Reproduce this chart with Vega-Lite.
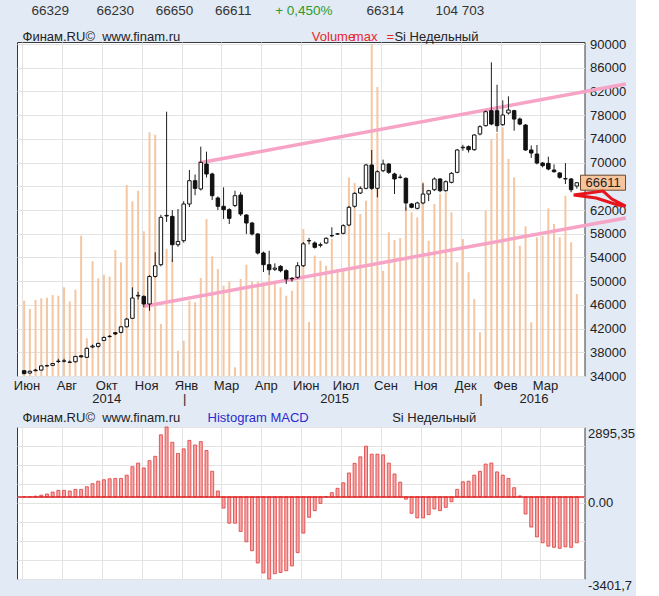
{
"$schema": "https://vega.github.io/schema/vega-lite/v6.json",
"background": "#e2eaf5",
"padding": {"left": 12, "top": 2, "right": 0, "bottom": 3},
"bounds": "flush",
"spacing": 51,
"datasets": {
"candles": [
{"i":0,"o":34900,"h":35000,"l":34300,"c":34400,"v":753,"m":0},
{"i":1,"o":34500,"h":34900,"l":34400,"c":34800,"v":670,"m":0},
{"i":2,"o":34900,"h":35200,"l":34800,"c":35000,"v":760,"m":30},
{"i":3,"o":35000,"h":35800,"l":34950,"c":35700,"v":777,"m":70},
{"i":4,"o":35700,"h":35900,"l":35600,"c":35750,"v":783,"m":120},
{"i":5,"o":35800,"h":36200,"l":35700,"c":36100,"v":810,"m":200},
{"i":6,"o":36450,"h":36900,"l":36200,"c":36500,"v":803,"m":270},
{"i":7,"o":36500,"h":36900,"l":36300,"c":36550,"v":887,"m":270},
{"i":8,"o":36300,"h":36600,"l":36250,"c":36350,"v":747,"m":245},
{"i":9,"o":36400,"h":37400,"l":36300,"c":37300,"v":863,"m":310},
{"i":10,"o":37400,"h":37500,"l":37100,"c":37250,"v":1403,"m":310},
{"i":11,"o":37150,"h":38800,"l":37100,"c":38670,"v":377,"m":420},
{"i":12,"o":38900,"h":39300,"l":38700,"c":39050,"v":1147,"m":545},
{"i":13,"o":39000,"h":39600,"l":38800,"c":39500,"v":977,"m":650},
{"i":14,"o":40000,"h":40650,"l":39900,"c":40500,"v":1013,"m":710},
{"i":15,"o":40650,"h":40900,"l":40500,"c":40700,"v":993,"m":750},
{"i":16,"o":41300,"h":41400,"l":40900,"c":41100,"v":1260,"m":765},
{"i":17,"o":41360,"h":42400,"l":41200,"c":42300,"v":1137,"m":765},
{"i":18,"o":42300,"h":43800,"l":42200,"c":43600,"v":1910,"m":900},
{"i":19,"o":43730,"h":48960,"l":43600,"c":47160,"v":1747,"m":1250},
{"i":20,"o":47500,"h":48200,"l":46900,"c":47600,"v":1853,"m":1400},
{"i":21,"o":47430,"h":47600,"l":45600,"c":46150,"v":1447,"m":1200},
{"i":22,"o":46150,"h":51000,"l":45000,"c":50800,"v":2437,"m":1500},
{"i":23,"o":50800,"h":54870,"l":50600,"c":52600,"v":2413,"m":1680},
{"i":24,"o":52780,"h":61200,"l":52500,"c":60770,"v":520,"m":2570},
{"i":25,"o":61000,"h":78590,"l":60000,"c":61100,"v":1270,"m":2895},
{"i":26,"o":60930,"h":62000,"l":53230,"c":56150,"v":1170,"m":2260},
{"i":27,"o":56150,"h":62170,"l":55800,"c":56700,"v":253,"m":1800},
{"i":28,"o":56830,"h":63500,"l":56500,"c":63020,"v":353,"m":1990},
{"i":29,"o":63020,"h":68750,"l":62500,"c":66950,"v":753,"m":2340},
{"i":30,"o":66950,"h":68000,"l":64500,"c":65660,"v":737,"m":2150},
{"i":31,"o":65550,"h":72700,"l":65300,"c":70040,"v":980,"m":2290},
{"i":32,"o":69760,"h":71850,"l":67500,"c":68080,"v":1570,"m":1920},
{"i":33,"o":68080,"h":68300,"l":63700,"c":64420,"v":1197,"m":1060},
{"i":34,"o":64030,"h":64300,"l":62000,"c":62630,"v":1070,"m":245},
{"i":35,"o":62630,"h":65830,"l":60500,"c":62060,"v":903,"m":-465},
{"i":36,"o":62060,"h":62300,"l":59640,"c":60600,"v":947,"m":-1090},
{"i":37,"o":62770,"h":65260,"l":62500,"c":64420,"v":87,"m":-1090},
{"i":38,"o":64530,"h":65000,"l":61000,"c":61330,"v":970,"m":-1430},
{"i":39,"o":61160,"h":61300,"l":57960,"c":59810,"v":1113,"m":-1860},
{"i":40,"o":59810,"h":60000,"l":57700,"c":57960,"v":943,"m":-2230},
{"i":41,"o":57960,"h":58100,"l":54500,"c":54750,"v":943,"m":-2740},
{"i":42,"o":54750,"h":55000,"l":51540,"c":52780,"v":937,"m":-3150},
{"i":43,"o":52780,"h":55140,"l":51000,"c":51930,"v":1003,"m":-3400},
{"i":44,"o":52000,"h":53000,"l":51700,"c":52200,"v":953,"m":-3180},
{"i":45,"o":52500,"h":52700,"l":51500,"c":51770,"v":887,"m":-3130},
{"i":46,"o":51770,"h":52000,"l":49520,"c":50360,"v":803,"m":-3060},
{"i":47,"o":50400,"h":50700,"l":49900,"c":50450,"v":853,"m":-2860},
{"i":48,"o":50650,"h":53200,"l":50400,"c":52600,"v":953,"m":-2310},
{"i":49,"o":52600,"h":56600,"l":52400,"c":56300,"v":1470,"m":-1500},
{"i":50,"o":56800,"h":57300,"l":56200,"c":56850,"v":540,"m":-845},
{"i":51,"o":56440,"h":56700,"l":55500,"c":55710,"v":1203,"m":-570},
{"i":52,"o":56050,"h":56500,"l":55700,"c":56150,"v":1153,"m":-270},
{"i":53,"o":56440,"h":57400,"l":56300,"c":57230,"v":1103,"m":0},
{"i":54,"o":57650,"h":59090,"l":57400,"c":57700,"v":1370,"m":175},
{"i":55,"o":57950,"h":58100,"l":57800,"c":57980,"v":1040,"m":355},
{"i":56,"o":58070,"h":59600,"l":57900,"c":59360,"v":1070,"m":585},
{"i":57,"o":59470,"h":62700,"l":59300,"c":62460,"v":1987,"m":990},
{"i":58,"o":62630,"h":65000,"l":62400,"c":64820,"v":1930,"m":1390},
{"i":59,"o":64870,"h":66000,"l":64700,"c":65660,"v":1620,"m":1660},
{"i":60,"o":65660,"h":69800,"l":65500,"c":69600,"v":1753,"m":2100},
{"i":61,"o":69600,"h":72130,"l":65400,"c":65660,"v":3320,"m":1770},
{"i":62,"o":65660,"h":68700,"l":64150,"c":68470,"v":2890,"m":1770},
{"i":63,"o":68640,"h":70500,"l":68400,"c":69760,"v":1053,"m":1740},
{"i":64,"o":69760,"h":69900,"l":68100,"c":68360,"v":1437,"m":1400},
{"i":65,"o":68080,"h":68300,"l":64700,"c":67240,"v":1360,"m":950},
{"i":66,"o":67500,"h":68000,"l":67300,"c":67550,"v":1380,"m":610},
{"i":67,"o":67350,"h":67500,"l":61890,"c":63190,"v":1687,"m":-95},
{"i":68,"o":63020,"h":63200,"l":62300,"c":62460,"v":1637,"m":-680},
{"i":69,"o":62290,"h":63400,"l":62100,"c":63190,"v":1587,"m":-870},
{"i":70,"o":63190,"h":66500,"l":63000,"c":64700,"v":1937,"m":-870},
{"i":71,"o":64700,"h":65400,"l":63500,"c":65260,"v":1353,"m":-735},
{"i":72,"o":65430,"h":67500,"l":65200,"c":67240,"v":1720,"m":-500},
{"i":73,"o":67240,"h":67400,"l":65000,"c":65260,"v":1820,"m":-570},
{"i":74,"o":65260,"h":67000,"l":65100,"c":66780,"v":1837,"m":-435},
{"i":75,"o":66670,"h":68400,"l":66500,"c":68190,"v":1637,"m":-200},
{"i":76,"o":68360,"h":72300,"l":68200,"c":72130,"v":1137,"m":310},
{"i":77,"o":72500,"h":73000,"l":72000,"c":72600,"v":1370,"m":625},
{"i":78,"o":72690,"h":72900,"l":71700,"c":72180,"v":1037,"m":650},
{"i":79,"o":72180,"h":74800,"l":72000,"c":74660,"v":770,"m":900},
{"i":80,"o":74830,"h":76300,"l":74600,"c":76060,"v":437,"m":1060},
{"i":81,"o":76230,"h":78800,"l":76100,"c":78590,"v":1653,"m":1360},
{"i":82,"o":78760,"h":86920,"l":76300,"c":76510,"v":2370,"m":1400},
{"i":83,"o":78760,"h":83140,"l":75200,"c":76230,"v":2430,"m":1035},
{"i":84,"o":76400,"h":80500,"l":76200,"c":78030,"v":2487,"m":900},
{"i":85,"o":78370,"h":81180,"l":78100,"c":78870,"v":2170,"m":765},
{"i":86,"o":78760,"h":78900,"l":75380,"c":77350,"v":1987,"m":380},
{"i":87,"o":77350,"h":77600,"l":76300,"c":76510,"v":1303,"m":40},
{"i":88,"o":76340,"h":76500,"l":72000,"c":72130,"v":1497,"m":-710},
{"i":89,"o":72130,"h":72900,"l":70800,"c":71620,"v":537,"m":-1250},
{"i":90,"o":71450,"h":72970,"l":69700,"c":69930,"v":1387,"m":-1660},
{"i":91,"o":69930,"h":70100,"l":69200,"c":69480,"v":1403,"m":-1900},
{"i":92,"o":69870,"h":71000,"l":68700,"c":68920,"v":1677,"m":-2040},
{"i":93,"o":68750,"h":69700,"l":68300,"c":68470,"v":1520,"m":-2090},
{"i":94,"o":68250,"h":68400,"l":67300,"c":67520,"v":1387,"m":-2130},
{"i":95,"o":67300,"h":69930,"l":66400,"c":67250,"v":1803,"m":-2070},
{"i":96,"o":67240,"h":67400,"l":65000,"c":65430,"v":1337,"m":-2090},
{"i":97,"o":66050,"h":66700,"l":65600,"c":66611,"v":820,"m":-1900}
],
"trend": [
{"line":"up","i":30.6,"p":69930},
{"line":"up","i":105.6,"p":83260},
{"line":"dn","i":21.1,"p":45760},
{"line":"dn","i":105.6,"p":60660}
],
"arrow": [
{"k":0,"i":96.43,"p":64535},
{"k":1,"i":101.6,"p":65210},
{"k":2,"i":103.16,"p":63860},
{"k":3,"i":105.57,"p":62680},
{"k":4,"i":104.19,"p":62850},
{"k":5,"i":100.4,"p":64030},
{"k":6,"i":96.43,"p":64535}
]
},
"config": {
"view": {"fill": "white", "stroke": "#3a3a3a", "strokeWidth": 1},
"axis": {"labelFont": "Liberation Sans", "labelFontSize": 13, "labelColor": "#222222", "domain": false, "ticks": false, "gridColor": "#e3e3e3", "labelOverlap": false, "tickCount": 30}
},
"vconcat": [
{
"width": 567.5,
"height": 334,
"layer": [
{
"data": {"name": "candles"},
"mark": {"type": "rule", "color": "#f4c6a2", "strokeWidth": 2},
"encoding": {
"x": {"field": "i", "type": "quantitative", "title": null, "scale": {"domain": [-0.38, 97.47], "nice": false, "zero": false},
"axis": {"orient": "bottom", "values": [-0.38,6.62,13.62,20.62,27.62,34.62,41.62,48.62,55.62,62.62,69.62,76.62,83.62,90.62], "tickCount": 30, "grid": true, "labelExpr": "['Июн','Авг','Окт','Ноя','Янв','Мар','Апр','Июн','Июл','Сен','Ноя','Дек','Фев','Мар'][round((datum.value+0.38)/7)]", "labelOffset": 4.5, "labelPadding": 3, "labelBaseline": "top"}},
"y": {"field": "v", "type": "quantitative", "title": null, "scale": {"domain": [0, 3340], "nice": false, "zero": false}, "axis": null},
"y2": {"datum": 0}
}
},
{
"layer": [
{
"data": {"name": "trend"},
"mark": {"type": "line", "color": "#f7a3c6", "strokeWidth": 3.5},
"encoding": {
"x": {"field": "i", "type": "quantitative", "title": null, "scale": {"domain": [-0.38, 97.47], "nice": false, "zero": false},
"axis": {"orient": "top", "grid": false, "values": [4.5,15.9,26.3,36.6,49,63.3,76.4], "labelExpr": "['66329','66230','66650','66611','+ 0,450%','66314','104 703'][indexof([4.5,15.9,26.3,36.6,49,63.3,76.4], datum.value)]", "offset": 25, "labelPadding": 0, "labelFontSize": 13.5, "labelColor": {"condition": {"test": "datum.value == 49", "value": "#2e9a2e"}, "value": "#333333"}}},
"y": {"field": "p", "type": "quantitative", "title": null, "scale": {"domain": [34000, 90350], "nice": false, "zero": false},
"axis": {"orient": "right", "values": [34000,38000,42000,46000,50000,54000,58000,62000,66000,70000,74000,78000,82000,86000,90000], "tickCount": 30, "grid": true, "labelOverlap": false, "labelExpr": "datum.value == 66000 ? '' : format(datum.value, 'd')", "labelPadding": 5, "labelAlign": "left", "labelBaseline": "middle"}},
"detail": {"field": "line"}
}
},
{
"data": {"name": "candles"},
"mark": {"type": "rule", "color": "#1e1e1e", "strokeWidth": 1},
"encoding": {
"x": {"field": "i", "type": "quantitative", "title": null, "scale": {"domain": [-0.38, 97.47], "nice": false, "zero": false},
"axis": {"orient": "bottom", "grid": false, "values": [14.4,28.1,54.4,80.1,89.4], "labelExpr": "['2014','|','2015','|','2016'][indexof([14.4,28.1,54.4,80.1,89.4], datum.value)]", "offset": 13, "labelPadding": 3, "labelBaseline": "top"}},
"y": {"field": "l", "type": "quantitative", "title": null, "scale": {"domain": [34000, 90350], "nice": false, "zero": false},
"axis": {"orient": "right", "values": [34000,38000,42000,46000,50000,54000,58000,62000,66000,70000,74000,78000,82000,86000,90000], "tickCount": 30, "grid": true, "labelOverlap": false, "labelExpr": "datum.value == 66000 ? '' : format(datum.value, 'd')", "labelPadding": 5, "labelAlign": "left", "labelBaseline": "middle"}},
"y2": {"field": "h"}
}
},
{
"data": {"name": "candles"},
"mark": {"type": "bar", "size": 3.5, "stroke": "#111111", "strokeWidth": 1},
"encoding": {
"x": {"field": "i", "type": "quantitative", "title": null, "scale": {"domain": [-0.38, 97.47], "nice": false, "zero": false},
"axis": {"orient": "top", "grid": false, "values": [-0.38,50.4,57.6,63.5,64.9], "labelExpr": "['Финам.RU©\u00a0 www.finam.ru','Volume','max','=','Si Недельный'][indexof([-0.38,50.4,57.6,63.5,64.9], datum.value)]", "labelAlign": "left", "labelPadding": -1, "labelColor": {"condition": {"test": "datum.value > 40 && datum.value < 64", "value": "#e8262a"}, "value": "#222222"}}},
"y": {"field": "o", "type": "quantitative", "title": null, "scale": {"domain": [34000, 90350], "nice": false, "zero": false},
"axis": {"orient": "right", "values": [34000,38000,42000,46000,50000,54000,58000,62000,66000,70000,74000,78000,82000,86000,90000], "tickCount": 30, "grid": true, "labelOverlap": false, "labelExpr": "datum.value == 66000 ? '' : format(datum.value, 'd')", "labelPadding": 5, "labelAlign": "left", "labelBaseline": "middle"}},
"y2": {"field": "c"},
"fill": {"condition": {"test": "datum.c >= datum.o", "value": "#ffffff"}, "value": "#111111"}
}
},
{
"data": {"name": "candles"},
"transform": [{"filter": "datum.i == 97"}],
"mark": {"type": "point", "shape": "M-1,-0.333H1V0.333H-1Z", "size": 2025, "filled": true, "fill": "#f8c49c", "stroke": "#6b4a30", "strokeWidth": 1, "opacity": 1},
"encoding": {
"x": {"datum": 101.6, "type": "quantitative", "scale": {"domain": [-0.38, 97.47], "nice": false, "zero": false}, "axis": null},
"y": {"field": "c", "type": "quantitative", "title": null, "scale": {"domain": [34000, 90350], "nice": false, "zero": false},
"axis": {"orient": "right", "values": [34000,38000,42000,46000,50000,54000,58000,62000,66000,70000,74000,78000,82000,86000,90000], "tickCount": 30, "grid": true, "labelOverlap": false, "labelExpr": "datum.value == 66000 ? '' : format(datum.value, 'd')", "labelPadding": 5, "labelAlign": "left", "labelBaseline": "middle"}}
}
},
{
"data": {"name": "candles"},
"transform": [{"filter": "datum.i == 97"}],
"mark": {"type": "text", "font": "Liberation Sans", "fontSize": 13, "color": "#222222", "align": "center", "baseline": "middle"},
"encoding": {
"x": {"datum": 101.6, "type": "quantitative", "scale": {"domain": [-0.38, 97.47], "nice": false, "zero": false}, "axis": null},
"y": {"field": "c", "type": "quantitative", "title": null, "scale": {"domain": [34000, 90350], "nice": false, "zero": false},
"axis": {"orient": "right", "values": [34000,38000,42000,46000,50000,54000,58000,62000,66000,70000,74000,78000,82000,86000,90000], "tickCount": 30, "grid": true, "labelOverlap": false, "labelExpr": "datum.value == 66000 ? '' : format(datum.value, 'd')", "labelPadding": 5, "labelAlign": "left", "labelBaseline": "middle"}},
"text": {"field": "c", "type": "quantitative", "format": "d"}
}
},
{
"data": {"name": "arrow"},
"mark": {"type": "line", "color": "#e8141c", "strokeWidth": 3, "clip": false},
"encoding": {
"x": {"field": "i", "type": "quantitative", "title": null, "scale": {"domain": [-0.38, 97.47], "nice": false, "zero": false}, "axis": null},
"y": {"field": "p", "type": "quantitative", "title": null, "scale": {"domain": [34000, 90350], "nice": false, "zero": false},
"axis": {"orient": "right", "values": [34000,38000,42000,46000,50000,54000,58000,62000,66000,70000,74000,78000,82000,86000,90000], "tickCount": 30, "grid": true, "labelOverlap": false, "labelExpr": "datum.value == 66000 ? '' : format(datum.value, 'd')", "labelPadding": 5, "labelAlign": "left", "labelBaseline": "middle"}},
"order": {"field": "k"}
}
}
],
"resolve": {"axis": {"x": "independent"}}
}
],
"resolve": {"scale": {"y": "independent"}, "axis": {"x": "independent", "y": "independent"}}
},
{
"width": 567.5,
"height": 152,
"layer": [
{
"data": {"name": "candles"},
"transform": [{"filter": "datum.m >= 0"}],
"mark": {"type": "bar", "size": 3, "fill": "#f5a9a9", "stroke": "#e03a3a", "strokeWidth": 0.8},
"encoding": {
"x": {"field": "i", "type": "quantitative", "title": null, "scale": {"domain": [-0.38, 97.47], "nice": false, "zero": false},
"axis": {"orient": "bottom", "values": [-0.38,6.62,13.62,20.62,27.62,34.62,41.62,48.62,55.62,62.62,69.62,76.62,83.62,90.62], "tickCount": 30, "grid": true, "labels": false}},
"y": {"field": "m", "type": "quantitative", "title": null, "scale": {"domain": [-3401.7, 2895.35], "nice": false, "zero": false},
"axis": {"orient": "right", "values": [2895.35,2108,1321,534,0,-253,-1040,-1827,-2614,-3401.7], "tickCount": 30, "grid": true, "labelOverlap": false, "labelExpr": "datum.value == 0 ? '0.00' : datum.value > 2800 ? '2895,35' : datum.value < -3400 ? '-3401,7' : ''", "labelPadding": 3, "labelAlign": "left", "labelBaseline": "top"}},
"y2": {"datum": 0}
}
},
{
"data": {"name": "candles"},
"transform": [{"filter": "datum.m < 0"}],
"mark": {"type": "bar", "size": 3, "fill": "#f5a9a9", "stroke": "#e03a3a", "strokeWidth": 0.8},
"encoding": {
"x": {"field": "i", "type": "quantitative", "title": null, "scale": {"domain": [-0.38, 97.47], "nice": false, "zero": false},
"axis": {"orient": "top", "grid": false, "values": [-0.38,32.1,64.5], "labelExpr": "['Финам.RU©\u00a0 www.finam.ru','Histogram MACD','Si Недельный'][indexof([-0.38,32.1,64.5], datum.value)]", "labelAlign": "left", "labelPadding": 2.6, "labelColor": {"condition": {"test": "datum.value == 32.1", "value": "#2b2bd0"}, "value": "#222222"}}},
"y": {"field": "m", "type": "quantitative", "title": null, "scale": {"domain": [-3401.7, 2895.35], "nice": false, "zero": false},
"axis": {"orient": "right", "values": [2895.35,2108,1321,534,0,-253,-1040,-1827,-2614,-3401.7], "tickCount": 30, "grid": true, "labelOverlap": false, "labelExpr": "datum.value == 0 ? '0.00' : datum.value > 2800 ? '2895,35' : datum.value < -3400 ? '-3401,7' : ''", "labelPadding": 3, "labelAlign": "left", "labelBaseline": "top"}},
"y2": {"datum": 0}
}
},
{
"data": {"values": [{}]},
"mark": {"type": "rule", "color": "#e02424", "strokeWidth": 1.5},
"encoding": {
"y": {"datum": 0, "type": "quantitative", "title": null, "scale": {"domain": [-3401.7, 2895.35], "nice": false, "zero": false},
"axis": {"orient": "right", "values": [2895.35,2108,1321,534,0,-253,-1040,-1827,-2614,-3401.7], "tickCount": 30, "grid": true, "labelOverlap": false, "labelExpr": "datum.value == 0 ? '0.00' : datum.value > 2800 ? '2895,35' : datum.value < -3400 ? '-3401,7' : ''", "labelPadding": 3, "labelAlign": "left", "labelBaseline": "top"}}
}
}
],
"resolve": {"axis": {"x": "independent"}}
}
]
}
